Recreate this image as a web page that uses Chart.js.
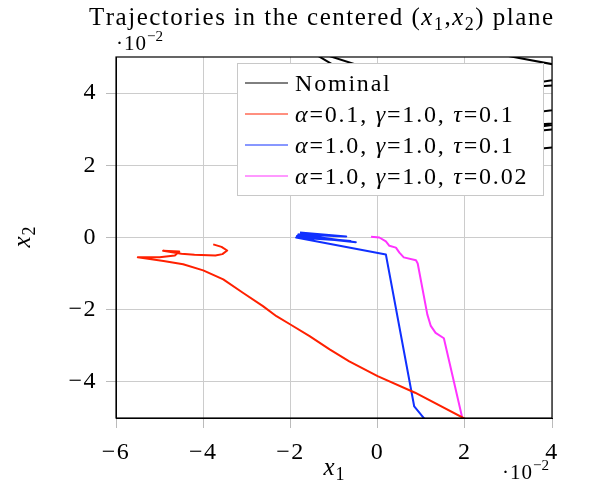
<!DOCTYPE html>
<html lang="en">
<head>
<meta charset="UTF-8">
<title>Trajectories in the centered plane</title>
<script src="https://cdn.jsdelivr.net/npm/chart.js"></script>
<style>
  body { margin: 0; background: #fff; }
</style>
</head>
<body>
<canvas id="trajChart" width="592" height="488"></canvas>
<script>
// all values are in units of 1e-2
const xTicks = [-6, -4, -2, 0, 2, 4];
const yTicks = [-4, -2, 0, 2, 4];

const seriesNames = [
  'Nominal',
  '$α$=0.1, $γ$=1.0, $τ$=0.1',
  '$α$=1.0, $γ$=1.0, $τ$=0.1',
  '$α$=1.0, $γ$=1.0, $τ$=0.02'
];

// nominal trajectory is mostly outside the window / behind the legend
const nominalX = [-1.6, 0.5, 4.5, 4.5, -1.4, -1.4, 1.5, 4.5, 4.5, 2.5, 2.5, 4.5, 4.5, 2.5, 1.0, 4.5, 2.0, 0.5, 4.5, 4.5, 1.5, -1.0];
const nominalY = [5.2, 3.69, 4.45, 5.6, 5.6, 5.14, 4.02, 4.25, 5.6, 5.6, 5.14, 4.69, 3.6, 3.3, 2.9, 3.2, 2.8, 2.6, 3.05, 2.55, 2.2, 1.6];

const redX = [-3.77, -3.58, -3.45, -3.56, -3.72, -4.2, -4.5, -4.92, -4.55, -4.65, -5.0, -5.5, -4.91, -4.46, -4.0, -3.54, -3.09, -2.63, -2.32, -2.0, -1.56, -1.1, -0.65, 0.0, 0.86, 2.0];
const redY = [-0.19, -0.26, -0.36, -0.46, -0.50, -0.48, -0.45, -0.37, -0.39, -0.50, -0.55, -0.55, -0.65, -0.74, -0.91, -1.16, -1.53, -1.90, -2.18, -2.41, -2.73, -3.10, -3.43, -3.84, -4.30, -5.02];

const blueX = [-1.78, -0.72, -1.82, -0.5, -1.85, -0.62, -1.87, 0.19, 0.84, 1.1];
const blueY = [0.14, 0.03, 0.08, -0.13, 0.04, -0.1, 0.0, -0.47, -4.68, -5.06];

const magentaX = [-0.15, 0.04, 0.19, 0.27, 0.42, 0.5, 0.6, 0.88, 0.92, 1.14, 1.22, 1.33, 1.52, 1.95];
const magentaY = [0.02, 0.0, -0.11, -0.23, -0.28, -0.42, -0.55, -0.63, -0.72, -2.13, -2.45, -2.64, -2.79, -5.04];

const colors = ['#000000', '#ff2000', '#1030ff', '#ff33ff'];
const SERIF = '"Liberation Serif", "DejaVu Serif", serif';

function pts(xs, ys) {
  return xs.map((x, i) => ({ x: x, y: ys[i] }));
}

function fmt(v) {
  return v < 0 ? '\u2212' + Math.abs(v) : String(v);
}

// tiny $...$ parser: letters in math are italic, _x / ^{..} are sub/superscripts
function parseTex(str) {
  const out = [];
  let math = false;
  for (let i = 0; i < str.length; i++) {
    const c = str[i];
    if (c === '$') { math = !math; continue; }
    if (math && (c === '_' || c === '^')) {
      let grp = str[i + 1];
      let j = i + 1;
      if (grp === '{') {
        const k = str.indexOf('}', i + 2);
        grp = str.slice(i + 2, k);
        j = k;
      }
      out.push({ t: grp, it: false, shift: c === '_' ? 0.2 : -0.42, small: true });
      i = j;
      continue;
    }
    out.push({ t: c, it: math && /[a-zA-Zα-ω]/.test(c), shift: 0, small: false });
  }
  return out;
}

// ls = extra spacing per glyph, to get closer to the wide Computer Modern look
function drawTex(ctx, str, x, y, size, align, ls) {
  ls = ls || 0;
  ctx.letterSpacing = '0px';
  const parts = parseTex(str);
  const fontOf = p => (p.it ? 'italic ' : '') + (p.small ? size * 0.72 : size) + 'px ' + SERIF;
  let w = 0;
  parts.forEach(p => { ctx.font = fontOf(p); p.w = ctx.measureText(p.t).width; w += p.w + ls; });
  w -= ls;
  let cx = align === 'center' ? x - w / 2 : (align === 'right' ? x - w : x);
  ctx.textAlign = 'left';
  ctx.textBaseline = 'alphabetic';
  parts.forEach(p => {
    ctx.font = fontOf(p);
    ctx.fillText(p.t, cx, y + p.shift * size);
    cx += p.w + ls;
  });
}

const decor = {
  id: 'decor',
  beforeDraw(chart) {
    chart.ctx.letterSpacing = '1.5px';
  },
  afterDraw(chart) {
    const ctx = chart.ctx;
    const a = chart.chartArea;
    ctx.save();
    ctx.fillStyle = '#000';

    // frame
    ctx.strokeStyle = '#000';
    ctx.lineWidth = 1.2;
    ctx.strokeRect(a.left, a.top, a.right - a.left, a.bottom - a.top);

    // texts
    drawTex(ctx, 'Trajectories in the centered $(x_1,x_2)$ plane', 321, 25, 25, 'center', 1.5);
    drawTex(ctx, '$·10^{−2}$', a.left, 50, 21, 'left', 1);
    drawTex(ctx, '$·10^{−2}$', a.right - 3, 479, 21, 'right', 1);
    drawTex(ctx, '$x_1$', 334, 475, 25, 'center', 1);
    ctx.save();
    ctx.translate(30, 237);
    ctx.rotate(-Math.PI / 2);
    drawTex(ctx, '$x_2$', 0, 0, 25, 'center', 1);
    ctx.restore();

    // legend inside plot
    const lx = a.left + 121, ly = a.top + 6, lw = 306, lh = 132;
    ctx.fillStyle = '#fff';
    ctx.fillRect(lx, ly, lw, lh);
    ctx.strokeStyle = '#c8c8c8';
    ctx.lineWidth = 1;
    ctx.strokeRect(lx + 0.5, ly + 0.5, lw, lh);
    seriesNames.forEach((name, i) => {
      const ry = ly + 20 + i * 31;
      ctx.strokeStyle = colors[i];
      ctx.lineWidth = 1;
      ctx.beginPath();
      ctx.moveTo(lx + 8, ry);
      ctx.lineTo(lx + 51, ry);
      ctx.stroke();
      ctx.fillStyle = '#000';
      drawTex(ctx, name, lx + 58, ry + 8, 24, 'left', 1.8);
    });
    ctx.restore();
  }
};

const lineSet = (label, xs, ys, color, width) => ({
  label: label,
  data: pts(xs, ys),
  showLine: true,
  borderColor: color,
  backgroundColor: color,
  borderWidth: width,
  pointRadius: 0,
  tension: 0,
  borderJoinStyle: 'round'
});

const axisCommon = {
  type: 'linear',
  grid: { color: '#cccccc', tickLength: 10, tickColor: '#bbbbbb' },
  border: { color: '#000', width: 1 },
  ticks: {
    color: '#000',
    font: { family: SERIF, size: 24 },
    maxRotation: 0,
    callback: v => fmt(v)
  }
};

new Chart(document.getElementById('trajChart'), {
  type: 'scatter',
  data: {
    datasets: [
      lineSet(seriesNames[0], nominalX, nominalY, colors[0], 2),
      lineSet(seriesNames[1], redX, redY, colors[1], 2),
      lineSet(seriesNames[2], blueX, blueY, colors[2], 2),
      lineSet(seriesNames[3], magentaX, magentaY, colors[3], 2)
    ]
  },
  options: {
    responsive: false,
    animation: false,
    layout: { padding: { top: 57, right: 40, left: 0, bottom: 0 } },
    plugins: {
      legend: { display: false },
      tooltip: { enabled: false }
    },
    scales: {
      x: Object.assign({}, axisCommon, {
        min: -6, max: 4,
        ticks: Object.assign({}, axisCommon.ticks, { padding: 10 }),
        afterBuildTicks: s => { s.ticks = xTicks.map(v => ({ value: v })); },
        afterFit: s => { s.height = 70; }
      }),
      y: Object.assign({}, axisCommon, {
        min: -5, max: 5,
        ticks: Object.assign({}, axisCommon.ticks, { padding: 9 }),
        afterBuildTicks: s => { s.ticks = yTicks.map(v => ({ value: v })); },
        afterFit: s => { s.width = 116; }
      })
    }
  },
  plugins: [decor]
});
</script>
</body>
</html>
